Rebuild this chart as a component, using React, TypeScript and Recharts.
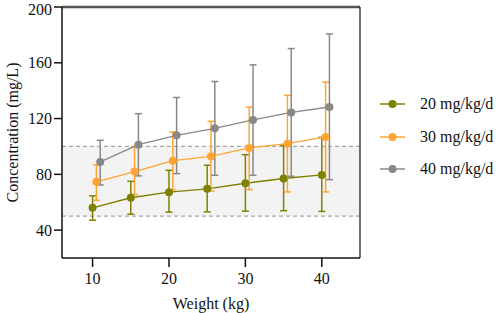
import { ErrorBar, Legend, Line, LineChart, ReferenceArea, ReferenceLine, XAxis, YAxis } from "recharts";

const olive = "#808000";
const orange = "#FFA433";
const gray = "#888888";
const font = "'Liberation Serif', 'Times New Roman', serif";

// weights are dodged per dose so the error bars don't overlap
const weights20 = [10, 15, 20, 25, 30, 35, 40];
const weights30 = [10.5, 15.5, 20.5, 25.5, 30.5, 35.5, 40.5];
const weights40 = [11, 16, 21, 26, 31, 36, 41];

const mean20 = [56, 63.2, 67.2, 69.6, 73.6, 77, 79.6];
const upper20 = [64.6, 75, 82.9, 86.5, 94.1, 100.8, 106.5];
const lower20 = [47.1, 51.4, 52.9, 53.1, 53.6, 53.9, 53.4];

const mean30 = [74.6, 82, 89.8, 92.9, 98.9, 102, 106.8];
const upper30 = [86.8, 99.6, 110.4, 118, 128.2, 136.6, 146.1];
const lower30 = [61.4, 65.5, 69, 68, 69, 67.4, 67.4];

const mean40 = [88.9, 101.3, 108, 113, 119, 124.4, 128.3];
const upper40 = [104.4, 123.5, 135.1, 146.6, 158.5, 170.2, 180.7];
const lower40 = [72.4, 78.9, 80.5, 79.3, 79.3, 78.6, 76.2];

const xTicks = [10, 20, 30, 40];
const yTicks = [40, 80, 120, 160, 200];

function build(xs: number[], mean: number[], lo: number[], hi: number[]) {
  return xs.map((x, i) => ({ x, y: mean[i], err: [mean[i] - lo[i], hi[i] - mean[i]] }));
}

const data20 = build(weights20, mean20, lower20, upper20);
const data30 = build(weights30, mean30, lower30, upper30);
const data40 = build(weights40, mean40, lower40, upper40);

const series = [
  { name: "20 mg/kg/d", color: olive, data: data20 },
  { name: "30 mg/kg/d", color: orange, data: data30 },
  { name: "40 mg/kg/d", color: gray, data: data40 },
];

function LegendBox(props: any) {
  const items = props.payload || [];
  return (
    <div>
      {items.map((it: any) => (
        <div key={it.value} style={{ height: 32.5, display: "flex", alignItems: "center" }}>
          <svg width={40} height={12}>
            <line x1={0} y1={6} x2={25} y2={6} stroke={it.color} strokeWidth={1.5} />
            <circle cx={12.5} cy={6} r={4} fill={it.color} />
          </svg>
          <span style={{ fontFamily: font, fontSize: 16, color: "#111" }}>{it.value}</span>
        </div>
      ))}
    </div>
  );
}

export default function App() {
  const tick = { fill: "#111", fontSize: 16, fontFamily: font };
  return (
    <div style={{ position: "absolute", left: 0, top: 0, width: 498, height: 313, background: "#fff", fontFamily: font }}>
      <LineChart width={498} height={313} margin={{ top: 7, right: 138, left: 0, bottom: 0 }} style={{ fontFamily: font }}>
        <ReferenceArea y1={50} y2={100} fill="#f3f3f3" fillOpacity={1} stroke="none" ifOverflow="hidden" />
        <ReferenceLine y={50} stroke="#a8a8a8" strokeDasharray="4 3" strokeWidth={1.2} />
        <ReferenceLine y={100} stroke="#a8a8a8" strokeDasharray="4 3" strokeWidth={1.2} />
        <ReferenceLine y={200} stroke="#555" strokeWidth={2.5} />
        <ReferenceLine x={45} stroke="#111" strokeWidth={1.2} />
        <XAxis
          type="number"
          dataKey="x"
          domain={[6, 45]}
          ticks={xTicks}
          allowDataOverflow
          height={55}
          tick={tick}
          tickSize={9}
          tickMargin={6}
          axisLine={{ stroke: "#111", strokeWidth: 1.5 }}
          tickLine={{ stroke: "#111", strokeWidth: 1.5 }}
          label={{ value: "Weight (kg)", position: "insideBottom", offset: 4, style: { fontFamily: font, fontSize: 16, fill: "#111" } }}
        />
        <YAxis
          type="number"
          domain={[20, 200]}
          ticks={yTicks}
          allowDataOverflow
          width={62}
          tick={tick}
          tickSize={8}
          tickMargin={2}
          axisLine={{ stroke: "#111", strokeWidth: 1.5 }}
          tickLine={{ stroke: "#111", strokeWidth: 1.5 }}
          label={{ value: "Concentration (mg/L)", angle: -90, position: "center", dx: -19, style: { fontFamily: font, fontSize: 16, fill: "#111", textAnchor: "middle" } }}
        />
        <Legend
          layout="horizontal"
          align="center"
          verticalAlign="middle"
          content={<LegendBox />}
          wrapperStyle={{ left: 380, top: 88, width: 118 }}
        />
        {series.map((s) => (
          <Line
            key={s.name}
            data={s.data}
            dataKey="y"
            name={s.name}
            stroke={s.color}
            strokeWidth={1.3}
            dot={{ r: 4, fill: s.color, stroke: "none" }}
            activeDot={false}
            isAnimationActive={false}
          >
            <ErrorBar dataKey="err" direction="y" width={3.5} stroke={s.color} strokeWidth={1.5} />
          </Line>
        ))}
      </LineChart>
    </div>
  );
}
